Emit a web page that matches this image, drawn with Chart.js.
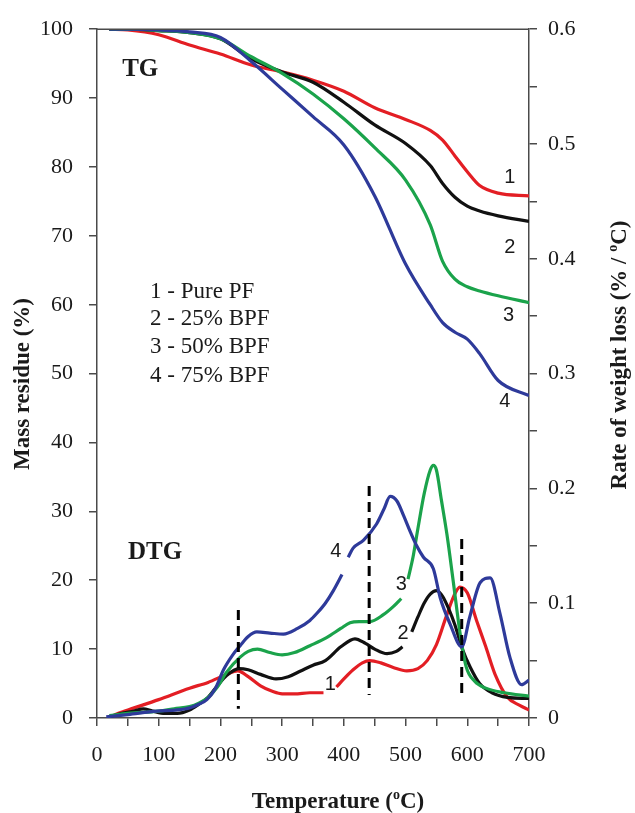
<!DOCTYPE html>
<html>
<head>
<meta charset="utf-8">
<script src="https://cdn.jsdelivr.net/npm/chart.js@4.4.0/dist/chart.umd.min.js"></script>
<style>
html, body { margin: 0; padding: 0; background: #fff; }
</style>
</head>
<body>
<canvas id="tgChart" width="635" height="813"></canvas>
<script>
// TG curves - mass residue (%) vs temperature
var tgTemp = [20, 50, 100, 150, 200, 250, 300, 350, 400, 450, 500, 540, 560, 580, 600, 620, 650, 700];
var tgPure = [100, 99.9, 99.2, 97.7, 96.4, 94.8, 93.8, 92.6, 91.0, 88.6, 86.9, 85.3, 83.9, 81.6, 79.3, 77.3, 76.2, 75.8];
var tg25   = [100, 100, 99.8, 99.5, 98.6, 95.7, 93.8, 92.3, 89.4, 86.1, 83.4, 80.2, 77.6, 75.6, 74.3, 73.6, 72.9, 72.1];
var tg50   = [100, 100, 99.8, 99.5, 98.6, 96.0, 93.6, 90.6, 87.0, 82.8, 78.1, 71.6, 66.3, 63.7, 62.6, 62.0, 61.3, 60.3];
var tg75   = [100, 100, 99.9, 99.6, 98.8, 95.3, 91.3, 87.3, 83.2, 75.8, 65.9, 60.0, 57.4, 56.0, 55.0, 52.9, 49.0, 46.8];

// DTG curves - rate of weight loss (%/°C), null = gap where the curve number sits
var dtgTempPure = [20, 45, 100, 150, 180, 210, 228, 245, 265, 285, 300, 320, 345, 367, 377, 388, 400, 415, 430, 442, 460, 480, 502, 520, 535, 550, 565, 578, 588, 600, 615, 630, 645, 665, 685, 700];
var dtgPure     = [0.001, 0.006, 0.016, 0.026, 0.031, 0.038, 0.041, 0.036, 0.028, 0.023, 0.021, 0.021, 0.022, 0.022, null, 0.027, 0.034, 0.042, 0.048, 0.050, 0.048, 0.044, 0.041, 0.043, 0.050, 0.064, 0.087, 0.106, 0.114, 0.109, 0.085, 0.062, 0.038, 0.018, 0.011, 0.007];

var dtgTemp25 = [20, 40, 60, 75, 90, 110, 130, 150, 165, 180, 195, 210, 230, 245, 265, 290, 310, 330, 350, 370, 395, 418, 435, 450, 470, 485, 495, 502, 510, 520, 530, 540, 550, 560, 570, 580, 592, 605, 620, 640, 665, 700];
var dtg25     = [0.001, 0.004, 0.006, 0.008, 0.006, 0.004, 0.004, 0.007, 0.012, 0.018, 0.028, 0.037, 0.043, 0.042, 0.038, 0.034, 0.036, 0.041, 0.046, 0.050, 0.062, 0.069, 0.065, 0.060, 0.056, 0.058, 0.062, null, 0.075, 0.088, 0.100, 0.108, 0.111, 0.106, 0.095, 0.081, 0.060, 0.044, 0.030, 0.022, 0.018, 0.017];

var dtgTemp50 = [20, 50, 100, 125, 150, 165, 180, 195, 210, 232, 245, 260, 280, 300, 320, 345, 372, 395, 410, 425, 442, 464, 480, 493, 498, 504, 512, 520, 530, 540, 545, 550, 558, 567, 577, 588, 598, 612, 630, 660, 700];
var dtg50     = [0.002, 0.004, 0.006, 0.008, 0.010, 0.013, 0.018, 0.027, 0.040, 0.053, 0.058, 0.060, 0.057, 0.055, 0.057, 0.063, 0.070, 0.078, 0.083, 0.084, 0.084, 0.090, 0.097, 0.104, null, 0.121, 0.140, 0.165, 0.195, 0.216, 0.220, 0.216, 0.190, 0.160, 0.120, 0.075, 0.045, 0.032, 0.026, 0.022, 0.019];

var dtgTemp75 = [15, 50, 97, 130, 151, 165, 178, 192, 205, 220, 232, 245, 259, 280, 302, 325, 345, 356, 370, 383, 397, 402, 407, 415, 432, 453, 465, 475, 486, 497, 507, 518, 529, 545, 556, 572, 591, 604, 621, 637, 653, 669, 688, 700];
var dtg75     = [0.001, 0.003, 0.006, 0.007, 0.009, 0.012, 0.016, 0.026, 0.042, 0.055, 0.063, 0.071, 0.075, 0.074, 0.073, 0.078, 0.085, 0.091, 0.100, 0.111, 0.125, null, 0.140, 0.148, 0.155, 0.169, 0.182, 0.193, 0.189, 0.176, 0.163, 0.150, 0.140, 0.130, 0.105, 0.082, 0.062, 0.088, 0.118, 0.122, 0.091, 0.053, 0.029, 0.033];

// dashed markers at the DTG stages
var stageTemp   = [229, 441, 591];
var stageTop    = [0.094, 0.202, 0.156];
var stageBottom = [0.008, 0.020, 0.018];

var legendLines = ['1 - Pure PF', '2 - 25% BPF', '3 - 50% BPF', '4 - 75% BPF'];

var RED = '#e31e24', BLACK = '#111111', GREEN = '#1ba34b', BLUE = '#2e3a9a';
var AXIS = '#4a4a4a', TXT = '#1a1a1a';
var SERIF = '"Liberation Serif", "Times New Roman", serif';

function pts(xs, ys) {
  return xs.map(function(x, i) { return { x: x, y: ys[i] }; });
}

function curve(data, color, axis, order) {
  return {
    data: data, yAxisID: axis, borderColor: color, borderWidth: 3.2,
    pointRadius: 0, fill: false, cubicInterpolationMode: 'monotone',
    spanGaps: false, order: order
  };
}

var datasets = [
  curve(pts(tgTemp, tgPure), RED, 'y', 5),
  curve(pts(tgTemp, tg25), BLACK, 'y', 4),
  curve(pts(tgTemp, tg50), GREEN, 'y', 3),
  curve(pts(tgTemp, tg75), BLUE, 'y', 2),
  curve(pts(dtgTempPure, dtgPure), RED, 'y1', 5),
  curve(pts(dtgTemp25, dtg25), BLACK, 'y1', 4),
  curve(pts(dtgTemp50, dtg50), GREEN, 'y1', 3),
  curve(pts(dtgTemp75, dtg75), BLUE, 'y1', 2)
];
stageTemp.forEach(function(t, i) {
  datasets.push({
    data: [{ x: t, y: stageTop[i] }, { x: t, y: stageBottom[i] }],
    yAxisID: 'y1', borderColor: '#000', borderWidth: 3, borderDash: [10, 6],
    pointRadius: 0, fill: false, order: 1
  });
});

// text placed in data units
var notes = [
  { text: 'TG', x: 70, y: 94.1, axis: 'y', font: 'bold 25px ' + SERIF },
  { text: 'DTG', x: 94, y: 24.0, axis: 'y', font: 'bold 25px ' + SERIF },
  { text: '1', x: 669, y: 78.4, axis: 'y', font: '20px "Liberation Sans", sans-serif' },
  { text: '2', x: 669, y: 68.3, axis: 'y', font: '20px "Liberation Sans", sans-serif' },
  { text: '3', x: 667, y: 58.4, axis: 'y', font: '20px "Liberation Sans", sans-serif' },
  { text: '4', x: 661, y: 45.9, axis: 'y', font: '20px "Liberation Sans", sans-serif' },
  { text: '4', x: 387, y: 0.145, axis: 'y1', font: '20px "Liberation Sans", sans-serif' },
  { text: '3', x: 493, y: 0.1166, axis: 'y1', font: '20px "Liberation Sans", sans-serif' },
  { text: '2', x: 496, y: 0.0739, axis: 'y1', font: '20px "Liberation Sans", sans-serif' },
  { text: '1', x: 378, y: 0.0294, axis: 'y1', font: '20px "Liberation Sans", sans-serif' }
];
var legendX = 86, legendY = [61.9, 57.9, 53.8, 49.7];

// text with a raised small "o" for the degree sign
function drawTitle(ctx, parts, cx, cy, rot) {
  var big = 'bold 23px ' + SERIF, small = 'bold 14px ' + SERIF;
  var w = 0;
  parts.forEach(function(p, i) { ctx.font = i % 2 ? small : big; w += ctx.measureText(p).width; });
  ctx.save();
  ctx.translate(cx, cy);
  ctx.rotate(rot);
  ctx.textAlign = 'left';
  ctx.textBaseline = 'middle';
  var x = -w / 2;
  parts.forEach(function(p, i) {
    ctx.font = i % 2 ? small : big;
    ctx.fillText(p, x, i % 2 ? -7 : 0);
    x += ctx.measureText(p).width;
  });
  ctx.restore();
}

var textPlugin = {
  id: 'texts',
  afterDatasetsDraw: function(chart) {
    var ctx = chart.ctx, a = chart.chartArea, sx = chart.scales.x;
    ctx.save();
    ctx.strokeStyle = AXIS;
    ctx.lineWidth = 1.5;
    ctx.beginPath();
    ctx.moveTo(a.left, a.top);
    ctx.lineTo(a.right, a.top);
    ctx.stroke();

    ctx.fillStyle = TXT;
    ctx.textBaseline = 'middle';
    ctx.textAlign = 'center';
    notes.forEach(function(n) {
      ctx.font = n.font;
      ctx.fillText(n.text, sx.getPixelForValue(n.x), chart.scales[n.axis].getPixelForValue(n.y));
    });
    ctx.textAlign = 'left';
    ctx.font = '23px ' + SERIF;
    legendLines.forEach(function(s, i) {
      ctx.fillText(s, sx.getPixelForValue(legendX), chart.scales.y.getPixelForValue(legendY[i]));
    });

    drawTitle(ctx, ['Temperature (', 'o', 'C)'], 338, 802, 0);
    drawTitle(ctx, ['Mass residue (%)'], 23, 384, -Math.PI / 2);
    drawTitle(ctx, ['Rate of weight loss (% / ', 'o', 'C)'], 620, 355, -Math.PI / 2);
    ctx.restore();
  }
};

Chart.defaults.font.family = SERIF;
Chart.defaults.color = TXT;

var axisGrid = { drawOnChartArea: false, drawTicks: true, tickLength: 8, color: AXIS, lineWidth: 1.5 };
var axisBorder = { display: true, color: AXIS, width: 1.5 };

new Chart(document.getElementById('tgChart').getContext('2d'), {
  type: 'line',
  data: { datasets: datasets },
  options: {
    responsive: false,
    animation: false,
    layout: { padding: { top: 25, left: 0, right: 0, bottom: 0 } },
    plugins: { legend: { display: false }, tooltip: { enabled: false }, title: { display: false } },
    scales: {
      x: {
        type: 'linear', min: 0, max: 700,
        grid: axisGrid, border: axisBorder,
        ticks: {
          stepSize: 50, padding: 16, maxRotation: 0, autoSkip: false,
          font: { size: 22 },
          callback: function(v) { return v % 100 === 0 ? v : ''; }
        },
        afterFit: function(s) { s.height = 95; }
      },
      y: {
        position: 'left', min: 0, max: 100,
        grid: axisGrid, border: axisBorder,
        ticks: { stepSize: 10, padding: 16, font: { size: 22 } },
        afterFit: function(s) { s.width = 97; }
      },
      y1: {
        position: 'right', min: 0, max: 0.6,
        grid: axisGrid, border: axisBorder,
        ticks: {
          stepSize: 0.05, padding: 11, autoSkip: false, font: { size: 22 },
          callback: function(v) {
            var k = Math.round(v * 100);
            if (k % 10 !== 0) return '';
            return k === 0 ? '0' : (k / 100).toFixed(1);
          }
        },
        afterFit: function(s) { s.width = 106; }
      }
    }
  },
  plugins: [textPlugin]
});
</script>
</body>
</html>
